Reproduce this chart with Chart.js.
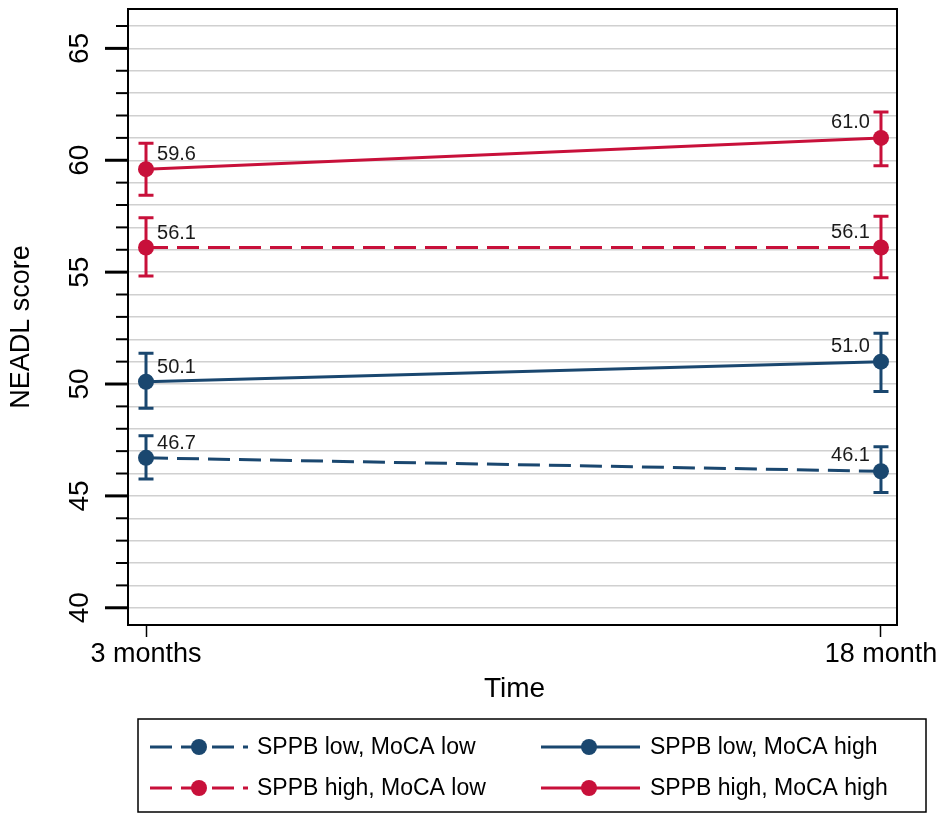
<!DOCTYPE html>
<html lang="en">
<head>
  <meta charset="UTF-8">
  <title>NEADL score over time by SPPB and MoCA group</title>
  <script src="https://cdn.jsdelivr.net/npm/chart.js"></script>
  <style>
    body { margin: 0; background: #fff; }
    #wrap { width: 939px; height: 814px; }
  </style>
</head>
<body>
  <div id="wrap"><canvas id="neadl" width="939" height="814"></canvas></div>

  <script>
    // Time points (x axis)
    const timeLabels = ['3 months', '18 month'];
    const timeIndex = [0, 1];

    // Groups, in legend order
    const groupNames = ['SPPB low, MoCA low', 'SPPB low, MoCA high', 'SPPB high, MoCA low', 'SPPB high, MoCA high'];

    // Mean NEADL score
    const lowLowMean   = [46.7, 46.1];
    const lowHighMean  = [50.1, 51.0];
    const highLowMean  = [56.1, 56.1];
    const highHighMean = [59.6, 61.0];

    // Error bar bounds (read from the caps)
    const lowLowLower   = [45.76, 45.15];
    const lowLowUpper   = [47.69, 47.20];
    const lowHighLower  = [48.92, 49.67];
    const lowHighUpper  = [51.37, 52.27];
    const highLowLower  = [54.83, 54.75];
    const highLowUpper  = [57.43, 57.50];
    const highHighLower = [58.44, 59.75];
    const highHighUpper = [60.76, 62.16];

    const navy = '#1A476F';
    const cranberry = '#C8103A';
    const FONT = '"Liberation Sans", Arial, Helvetica, sans-serif';

    function points(means) {
      return timeIndex.map((t, i) => ({ x: t, y: means[i] }));
    }

    function series(label, means, lower, upper, color, dashed) {
      return {
        label: label,
        data: points(means),
        lower: lower,
        upper: upper,
        borderColor: color,
        backgroundColor: color,
        borderWidth: 3,
        borderDash: dashed ? [22, 9] : [],
        pointRadius: 8,
        pointHoverRadius: 8,
        pointBorderWidth: 0,
        pointBackgroundColor: color,
        tension: 0
      };
    }

    // caps + vertical bars, drawn under the markers
    const errorBars = {
      id: 'errorBars',
      beforeDatasetsDraw(chart) {
        const { ctx, scales: { x, y } } = chart;
        chart.data.datasets.forEach(ds => {
          ctx.save();
          ctx.strokeStyle = ds.borderColor;
          ctx.lineWidth = 3;
          ds.data.forEach((p, i) => {
            const px = x.getPixelForValue(p.x);
            const top = y.getPixelForValue(ds.upper[i]);
            const bot = y.getPixelForValue(ds.lower[i]);
            ctx.beginPath();
            ctx.moveTo(px, top); ctx.lineTo(px, bot);
            ctx.moveTo(px - 7.5, top); ctx.lineTo(px + 7.5, top);
            ctx.moveTo(px - 7.5, bot); ctx.lineTo(px + 7.5, bot);
            ctx.stroke();
          });
          ctx.restore();
        });
      }
    };

    // plot frame and the long/short y tick marks
    const frame = {
      id: 'frame',
      beforeDatasetsDraw(chart) {
        const { ctx, chartArea: a, scales: { y } } = chart;
        ctx.save();
        ctx.strokeStyle = '#000';
        ctx.lineWidth = 2;
        ctx.strokeRect(a.left, a.top, a.right - a.left, a.bottom - a.top);
        y.ticks.forEach(t => {
          const py = y.getPixelForValue(t.value);
          const major = t.value % 5 === 0;
          ctx.lineWidth = major ? 3 : 2;
          ctx.beginPath();
          ctx.moveTo(a.left - (major ? 23 : 12), py);
          ctx.lineTo(a.left, py);
          ctx.stroke();
        });
        ctx.restore();
      }
    };

    // value labels next to each marker
    const valueLabels = {
      id: 'valueLabels',
      afterDatasetsDraw(chart) {
        const ctx = chart.ctx;
        ctx.save();
        ctx.font = '20px ' + FONT;
        ctx.fillStyle = '#1a1a1a';
        ctx.textBaseline = 'alphabetic';
        chart.data.datasets.forEach((ds, i) => {
          chart.getDatasetMeta(i).data.forEach((pt, j) => {
            const txt = ds.data[j].y.toFixed(1);
            if (j === 0) {
              ctx.textAlign = 'left';
              ctx.fillText(txt, pt.x + 11, pt.y - 9);
            } else {
              ctx.textAlign = 'right';
              ctx.fillText(txt, pt.x - 11, pt.y - 10);
            }
          });
        });
        ctx.restore();
      }
    };

    // axis titles and the boxed two-column legend
    const titlesAndLegend = {
      id: 'titlesAndLegend',
      afterDraw(chart) {
        const { ctx, chartArea: a } = chart;
        ctx.save();
        ctx.fillStyle = '#000';
        ctx.font = '27px ' + FONT;

        ctx.save();
        ctx.translate(22, 327);
        ctx.rotate(-Math.PI / 2);
        ctx.textAlign = 'center';
        ctx.textBaseline = 'middle';
        ctx.fillText('NEADL score', 0, 0);
        ctx.restore();

        ctx.font = '28px ' + FONT;
        ctx.textAlign = 'center';
        ctx.textBaseline = 'alphabetic';
        ctx.fillText('Time', (a.left + a.right) / 2 + 2, 697);

        // legend box
        ctx.strokeStyle = '#000';
        ctx.lineWidth = 1.5;
        ctx.strokeRect(138, 719, 788, 93);

        const cols = [
          { from: 150, to: 248, marker: 199, text: 257 },
          { from: 541, to: 640, marker: 589, text: 650 }
        ];
        const rows = [747, 788];
        ctx.font = '23px ' + FONT;
        ctx.textAlign = 'left';
        ctx.textBaseline = 'middle';
        chart.data.datasets.forEach((ds, i) => {
          const c = cols[i % 2];
          const ry = rows[Math.floor(i / 2)];
          ctx.strokeStyle = ds.borderColor;
          ctx.lineWidth = 3;
          ctx.setLineDash(ds.borderDash);
          ctx.beginPath();
          ctx.moveTo(c.from, ry);
          ctx.lineTo(c.to, ry);
          ctx.stroke();
          ctx.setLineDash([]);
          ctx.fillStyle = ds.borderColor;
          ctx.beginPath();
          ctx.arc(c.marker, ry, 8, 0, Math.PI * 2);
          ctx.fill();
          ctx.fillStyle = '#000';
          ctx.fillText(ds.label, c.text, ry + 1);
        });
        ctx.restore();
      }
    };

    const ctx = document.getElementById('neadl').getContext('2d');
    new Chart(ctx, {
      type: 'line',
      data: {
        datasets: [
          series(groupNames[0], lowLowMean, lowLowLower, lowLowUpper, navy, true),
          series(groupNames[1], lowHighMean, lowHighLower, lowHighUpper, navy, false),
          series(groupNames[2], highLowMean, highLowLower, highLowUpper, cranberry, true),
          series(groupNames[3], highHighMean, highHighLower, highHighUpper, cranberry, false)
        ]
      },
      options: {
        responsive: false,
        animation: false,
        devicePixelRatio: 1,
        layout: { padding: { left: 0, right: 42, top: 9, bottom: 0 } },
        plugins: {
          legend: { display: false },
          tooltip: { enabled: false },
          title: { display: false }
        },
        scales: {
          x: {
            type: 'linear',
            min: -0.0245,
            max: 1.0218,
            afterFit: s => { s.height = 189; s.paddingLeft = 0; s.paddingRight = 0; },
            ticks: {
              stepSize: 1,
              includeBounds: false,
              autoSkip: false,
              maxRotation: 0,
              padding: 1,
              color: '#000',
              font: { family: FONT, size: 27 },
              callback: v => timeLabels[v]
            },
            grid: { drawOnChartArea: false, drawTicks: true, tickLength: 12, tickColor: '#000', tickWidth: 1.5 },
            border: { display: false }
          },
          y: {
            type: 'linear',
            min: 39.23,
            max: 66.76,
            afterFit: s => { s.width = 128; s.paddingTop = 0; s.paddingBottom = 0; },
            ticks: {
              stepSize: 1,
              includeBounds: false,
              autoSkip: false,
              minRotation: 90,
              maxRotation: 90,
              crossAlign: 'center',
              padding: 32,
              color: '#000',
              font: { family: FONT, size: 28 },
              callback: v => (v % 5 === 0 ? String(v) : '')
            },
            grid: { color: '#d0d0d0', lineWidth: 1.5, drawTicks: false },
            border: { display: false }
          }
        }
      },
      plugins: [frame, errorBars, valueLabels, titlesAndLegend]
    });
  </script>
</body>
</html>
